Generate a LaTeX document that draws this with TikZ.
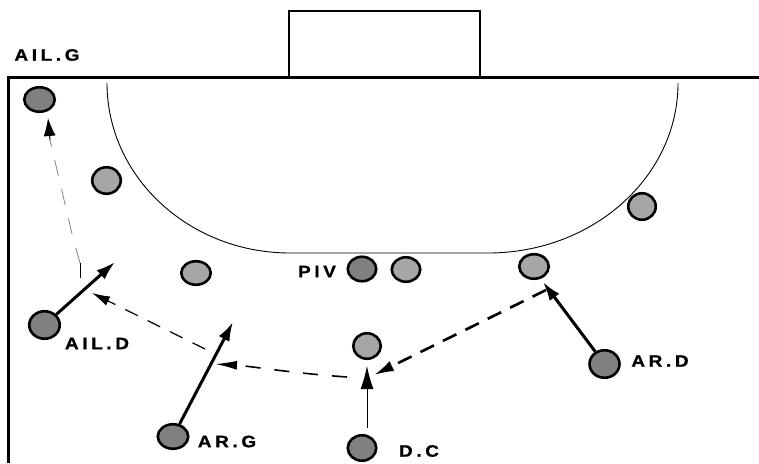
\documentclass[tikz,border=0pt]{standalone}
\usepackage{fontspec}
\setmainfont{Liberation Sans}
\newfontfamily\lblfont[LetterSpace=22,FakeStretch=1.15,FakeBold=1]{Liberation Sans Bold}
\usetikzlibrary{arrows.meta,shapes.geometric}
\definecolor{darkpl}{HTML}{808080}
\definecolor{lightpl}{HTML}{A6A6A6}
\begin{document}
\begin{tikzpicture}[x=1pt,y=-1pt,
  player/.style={ellipse, draw=black, line width=2.6pt, minimum width=28.5pt, minimum height=24.5pt, inner sep=0pt},
  darkp/.style={player, fill=darkpl},
  lightp/.style={player, fill=lightpl},
  lbl/.style={font=\fontsize{16.5}{18}\lblfont\selectfont, inner sep=0pt, anchor=center},
  run/.style={line width=3pt, -{Latex[length=19pt,width=12pt]}},
  thinrun/.style={line width=1pt, -{Latex[length=23pt,width=13pt]}},
  passthick/.style={line width=2.6pt, dash pattern=on 15pt off 10pt, -{Latex[length=20pt,width=11pt]}},
  passmid/.style={line width=1.6pt, dash pattern=on 15pt off 14pt, -{Latex[length=22pt,width=9pt]}},
  passthin/.style={line width=1.2pt, dash pattern=on 14pt off 11pt, -{Latex[length=18pt,width=10pt]}},
  field/.style={line width=3pt},
  thin/.style={line width=0.9pt}
]
\useasboundingbox (0,0) rectangle (759,463);
% goal and field lines
\draw[line width=1.3pt] (289,77) -- (289,11) -- (480,11) -- (480,77);
\draw[field] (8.5,463) -- (8.5,77.5) -- (759,77.5);
% goal area
\draw[thin] (107,83) arc[start angle=180, end angle=270, x radius=183pt, y radius=170pt]
  -- (488,253) arc[start angle=270, end angle=360, x radius=190pt, y radius=170pt];
% players
\node[darkp, minimum width=30.5pt, minimum height=24.5pt] (ailg) at (39.5,99.5) {};
\node[lightp, minimum width=28.5pt, minimum height=26.5pt] (l1) at (106.5,180.5) {};
\node[lightp, minimum width=27.5pt, minimum height=26.5pt] (r1) at (642,206.5) {};
\node[lightp, minimum width=29.5pt, minimum height=23.5pt] (l2) at (196,273) {};
\node[darkp] (piv) at (362,269) {};
\node[lightp] (l3) at (406,269.5) {};
\node[lightp, minimum width=29.5pt] (rb) at (534,266.5) {};
\node[darkp, minimum width=30.5pt, minimum height=27.5pt] (aild) at (44.5,325) {};
\node[darkp, minimum width=30.5pt] (arg) at (173,436.5) {};
\node[darkp, minimum width=30pt, minimum height=27.5pt] (ard) at (604.5,364) {};
\node[lightp, minimum width=27.5pt, minimum height=25.5pt] (cl) at (367,346) {};
\node[darkp, minimum height=25.5pt] (dc) at (362,448) {};
% labels
\node[lbl] (tailg) at (47,55) {AIL.G};
\node[lbl] (tpiv) at (317,271.5) {PIV};
\node[lbl] (taild) at (97,343.5) {AIL.D};
\node[lbl] (targ) at (227,441.5) {AR.G};
\node[lbl] (tdc) at (419,451) {D.C};
\node[lbl] (tard) at (660,361) {AR.D};
% coordinates
\coordinate (c1) at (80,278);
\coordinate (c2) at (80,263);
\coordinate (c3) at (73,238);
\coordinate (c4) at (50,140);
\coordinate (c5) at (48,118);
\coordinate (t1) at (115,262);
\coordinate (t2) at (233,322);
\coordinate (t3) at (543,282);
\coordinate (d1) at (367,428);
\coordinate (d2) at (367,366);
\coordinate (p1) at (546,290);
\coordinate (p2) at (374,375);
\coordinate (p3) at (347,377);
\coordinate (p4) at (215,364);
\coordinate (p5) at (205,349);
\coordinate (p6) at (92,293);
% runs
\draw[run] (aild) -- (t1);
\draw[run] (arg) -- (t2);
\draw[run] (ard) -- (t3);
\draw[thinrun] (d1) -- (d2);
% passes
\draw[passthick] (p1) -- (p2);
\draw[passmid] (p3) .. controls (290,373) and (250,366) .. (p4);
\draw[passthin] (p5) -- (p6);
% left wing run
\draw[line width=1pt] (c1) -- (c2);
\draw[line width=0.8pt, draw=gray, dash pattern=on 16pt off 14pt] (c2) -- (c3) -- (c4);
\draw[line width=1pt, -{Latex[length=18pt,width=12pt]}] (c4) -- (c5);
\end{tikzpicture}
\end{document}
